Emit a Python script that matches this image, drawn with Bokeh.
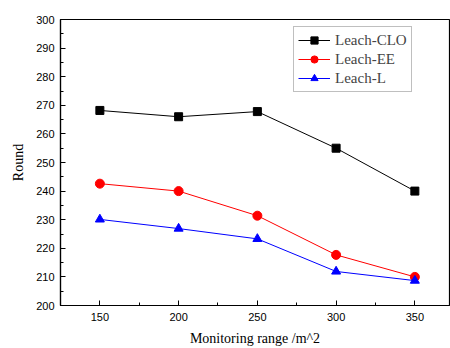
from bokeh.plotting import figure
from bokeh.models import Range1d, FixedTicker, Legend, LegendItem
from bokeh.embed import file_html
from bokeh.resources import INLINE

ranges = [150, 200, 250, 300, 350]
clo = [268.2, 266.0, 267.8, 255.0, 240.0]
ee = [242.6, 240.0, 231.4, 217.7, 210.0]
ll = [230.1, 226.9, 223.3, 211.9, 208.7]

p = figure(width=450, height=348, output_backend="svg", toolbar_location=None,
           x_range=Range1d(125, 372), y_range=Range1d(200, 300),
           min_border_left=60, min_border_right=1, min_border_top=19, min_border_bottom=40)
p.grid.visible = False
p.outline_line_color = "black"
p.outline_line_width = 1.2
p.background_fill_color = "white"
p.border_fill_color = "white"

for ax in (p.xaxis[0], p.yaxis[0]):
    ax.major_tick_in = 5
    ax.major_tick_out = 0
    ax.minor_tick_in = 3
    ax.minor_tick_out = 0
    ax.axis_line_width = 1.2
    ax.major_label_text_font = "Liberation Sans"
    ax.major_label_text_font_size = "11px"
    ax.major_label_text_color = "black"
    ax.axis_label_text_font = "Liberation Serif"
    ax.axis_label_text_font_size = "14px"
    ax.axis_label_text_font_style = "normal"
    ax.axis_label_text_color = "black"

p.xaxis.ticker = FixedTicker(ticks=ranges, minor_ticks=[175, 225, 275, 325])
p.yaxis.ticker = FixedTicker(ticks=list(range(200, 301, 10)),
                             minor_ticks=list(range(205, 300, 10)))
p.xaxis.axis_label = "Monitoring range /m^2"
p.yaxis.axis_label = "Round"
p.xaxis.major_label_standoff = 7
p.yaxis.major_label_standoff = 6
p.xaxis.axis_label_standoff = 7
p.yaxis.axis_label_standoff = 7

l1 = p.line(ranges, clo, color="black", line_width=1)
s1 = p.scatter(ranges, clo, marker="square", size=8, color="black")
l2 = p.line(ranges, ee, color="red", line_width=1)
s2 = p.scatter(ranges, ee, marker="circle", size=9, color="red")
l3 = p.line(ranges, ll, color="blue", line_width=1)
s3 = p.scatter(ranges, ll, marker="triangle", size=9, color="blue")

legend = Legend(items=[
    LegendItem(label="Leach-CLO", renderers=[l1, s1]),
    LegendItem(label="Leach-EE", renderers=[l2, s2]),
    LegendItem(label="Leach-L", renderers=[l3, s3]),
], location=(233, 213))
legend.label_text_font = "Liberation Serif"
legend.label_text_font_size = "15px"
legend.border_line_color = "gray"
legend.border_line_width = 1
legend.margin = 0
legend.padding = 4
legend.spacing = 1
legend.glyph_width = 32
legend.glyph_height = 18
legend.label_height = 18
legend.label_standoff = 5
legend.background_fill_alpha = 1
p.add_layout(legend)

open("out.html", "w").write(file_html(p, INLINE))
